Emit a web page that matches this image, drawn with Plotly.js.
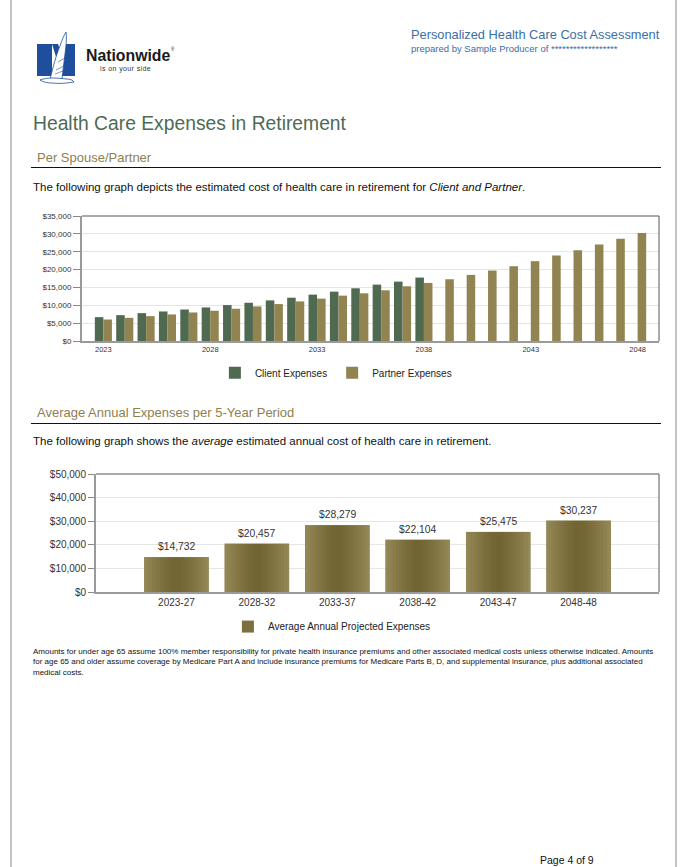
<!DOCTYPE html>
<html>
<head>
<meta charset="utf-8">
<script src="https://cdn.plot.ly/plotly-3.0.1.min.js"></script>
<style>
  body { margin: 0; background: #fff; font-family: "Liberation Sans", Arial, sans-serif; }
  #page { position: relative; width: 684px; height: 867px; overflow: hidden; background: #fff; }
  .abs { position: absolute; white-space: nowrap; line-height: 1; }
  .sub { color: #8e8050; font-size: 13px; }
  .body { color: #111; font-size: 11.5px; }
  .rule { position: absolute; left: 31px; width: 630px; height: 1px; background: #111; }
</style>
</head>
<body>
<div id="page">
  <div style="position:absolute;left:10px;top:0;width:2px;height:867px;background:#c4c4c4"></div>
  <div style="position:absolute;left:675px;top:0;width:2px;height:867px;background:#c4c4c4"></div>

  <svg class="abs" style="left:30px;top:28px" width="160" height="62" viewBox="30 28 160 62">
    <path d="M37,44 H52 V76 H37 Z" fill="#1f4f9c"/>
    <path d="M63,44 H75 V76 H63 Z" fill="#1f4f9c"/>
    <path d="M52,44 H58 L67,68 V76 H62 Z" fill="#1f4f9c"/>
    <path d="M50,79 C53,68 56,55 60,46 C62,40 64,35 66,32 C67,38 66,46 65,54 C64,62 63,70 62,79 Z" fill="#fff" stroke="#1f4f9c" stroke-width="0.8"/>
    <path d="M56,70 L64,66 M55,74 L63,71 M58,62 L65,58" stroke="#1f4f9c" stroke-width="0.6" fill="none"/>
    <path d="M40,80 C48,77 58,78 66,79 C70,79 73,80 74,82 C68,83 60,84 52,83 C47,83 43,82 40,80 Z" fill="#fff" stroke="#1f4f9c" stroke-width="0.8"/>
    <text x="86" y="60.5" font-family="Liberation Sans, Arial, sans-serif" font-weight="bold" font-size="15.8" fill="#1a1a1a">Nationwide</text>
    <text x="171" y="51" font-family="Liberation Sans, Arial, sans-serif" font-size="4.5" fill="#1a1a1a">®</text>
    <text x="100" y="70.5" font-family="Liberation Sans, Arial, sans-serif" font-size="7" fill="#333" letter-spacing="0.4">is on your side</text>
  </svg>

  <div class="abs" style="left:411px;top:28.6px;font-size:12.8px;color:#3b6ea6">Personalized Health Care Cost Assessment</div>
  <div class="abs" style="left:411px;top:43.8px;font-size:9.5px;color:#3b6ea6">prepared by Sample Producer of ******************</div>

  <div class="abs" style="left:33px;top:114px;font-size:19.3px;color:#4e6b52">Health Care Expenses in Retirement</div>

  <div class="abs sub" style="left:37px;top:150.5px">Per Spouse/Partner</div>
  <div class="rule" style="top:166.5px"></div>
  <div class="abs body" style="left:33px;top:181.5px">The following graph depicts the estimated cost of health care in retirement for <i>Client and Partner</i>.</div>

  <div id="chart1" style="position:absolute;left:0;top:205px;width:684px;height:215px"></div>

  <div class="abs sub" style="left:37px;top:405.5px">Average Annual Expenses per 5-Year Period</div>
  <div class="rule" style="top:422.5px"></div>
  <div class="abs body" style="left:33px;top:435.5px">The following graph shows the <i>average</i> estimated annual cost of health care in retirement.</div>

  <div id="chart2" style="position:absolute;left:0;top:460px;width:684px;height:210px"></div>

  <div class="abs" style="left:33px;top:646.5px;font-size:8px;line-height:10.5px;color:#111">Amounts for under age 65 assume 100% member responsibility for private health insurance premiums and other associated medical costs unless otherwise indicated. Amounts<br>for age 65 and older assume coverage by Medicare Part A and include insurance premiums for Medicare Parts B, D, and supplemental insurance, plus additional associated<br>medical costs.</div>

  <div class="abs" style="left:540px;top:855px;font-size:10.5px;color:#111">Page 4 of 9</div>
</div>

<script>
// ---- Chart 1 data: yearly expenses per spouse/partner ----
const years = [2023, 2024, 2025, 2026, 2027, 2028, 2029, 2030, 2031, 2032, 2033, 2034, 2035,
               2036, 2037, 2038, 2039, 2040, 2041, 2042, 2043, 2044, 2045, 2046, 2047, 2048];
const clientExpenses = [6680, 7240, 7800, 8270, 8820, 9400, 10060, 10710, 11370, 12120, 12980, 13820,
                        14760, 15790, 16630, 17760, null, null, null, null, null, null, null, null, null, null];
const partnerExpenses = [6020, 6490, 6960, 7430, 7990, 8470, 9030, 9680, 10340, 11090, 11860, 12700,
                         13350, 14200, 15320, 16260, 17290, 18510, 19730, 20940, 22350, 23940, 25440, 27030, 28620, 30237];
const seriesNames = ["Client Expenses", "Partner Expenses"];

// ---- Chart 2 data: average annual expenses per 5-year period ----
const periods = ["2023-27", "2028-32", "2033-37", "2038-42", "2043-47", "2048-48"];
const averageExpenses = [14732, 20457, 28279, 22104, 25475, 30237];
const avgSeriesName = "Average Annual Projected Expenses";

const FONT = "Liberation Sans, Arial, sans-serif";
const config = { displayModeBar: false, staticPlot: true };

// Chart 1
const c1 = [
  { type: "bar", name: seriesNames[0], x: years, y: clientExpenses, marker: { color: "#4f6a51" } },
  { type: "bar", name: seriesNames[1], x: years, y: partnerExpenses, marker: { color: "#918451" } }
];
const l1 = {
  width: 684, height: 215,
  margin: { l: 82, r: 25, t: 11, b: 79 },
  paper_bgcolor: "rgba(0,0,0,0)", plot_bgcolor: "#fff",
  barmode: "group", bargap: 0.2, bargroupgap: 0,
  font: { family: FONT, color: "#333" },
  showlegend: true,
  xaxis: { range: [2022, 2049], tick0: 2023, dtick: 5, tickfont: { size: 7.5, color: "#333" },
           showgrid: false, showline: true, linecolor: "#9a9a9a", linewidth: 2, ticks: "", zeroline: false },
  yaxis: { range: [0, 35000], dtick: 5000, tickprefix: "$", tickformat: ",d", ticks: "outside", ticklen: 7,
           tickcolor: "#888", tickfont: { size: 8, color: "#333" }, gridcolor: "#e6e6e6",
           showline: true, linecolor: "#9a9a9a", linewidth: 2, zeroline: false },
  shapes: [
    { type: "line", xref: "paper", yref: "paper", x0: 0, x1: 1, y0: 1, y1: 1, line: { color: "#555", width: 1 } },
    { type: "line", xref: "paper", yref: "paper", x0: 1, x1: 1, y0: 0, y1: 1, line: { color: "#555", width: 1 } }
  ],
  legend: { orientation: "h", x: 0.44, xanchor: "center", y: -0.253, yanchor: "middle",
            font: { size: 10, color: "#222" } }
};
Plotly.newPlot("chart1", c1, l1, config);

// Chart 2: bars with a horizontal gradient built from thin overlaid bar slices
function mix(a, b, t) {
  const pa = [1, 3, 5].map(i => parseInt(a.substr(i, 2), 16));
  const pb = [1, 3, 5].map(i => parseInt(b.substr(i, 2), 16));
  return "rgb(" + pa.map((v, i) => Math.round(v + (pb[i] - v) * t)).join(",") + ")";
}
const BARW = 0.8, NS = 24;
const c2 = [{
  type: "bar", name: avgSeriesName, x: periods, y: averageExpenses,
  width: BARW, offset: -BARW / 2, marker: { color: "#7d7040" }
}];
for (let i = 0; i < NS; i++) {
  const t = (i + 0.5) / NS;
  const d = Math.abs(t - 0.5) * 2;
  c2.push({
    type: "bar", x: periods, y: averageExpenses, showlegend: false,
    width: BARW / NS + 0.002, offset: -BARW / 2 + i * BARW / NS,
    marker: { color: mix("#716332", "#968a58", Math.pow(d, 1.3)) }
  });
}
const valueLabels = periods.map((p, i) => ({
  x: p, y: averageExpenses[i], xref: "x", yref: "y",
  text: "$" + averageExpenses[i].toLocaleString("en-US"),
  showarrow: false, yanchor: "bottom", yshift: 3,
  font: { size: 10.3, color: "#333", family: FONT }
}));
const l2 = {
  width: 684, height: 210,
  margin: { l: 96, r: 25, t: 13.7, b: 77.7 },
  paper_bgcolor: "rgba(0,0,0,0)", plot_bgcolor: "#fff",
  barmode: "overlay",
  font: { family: FONT, color: "#333" },
  showlegend: true,
  xaxis: { type: "category", range: [-1, 6], tickfont: { size: 10, color: "#333" },
           showgrid: false, showline: true, linecolor: "#9a9a9a", linewidth: 2, ticks: "", zeroline: false },
  yaxis: { range: [0, 50000], dtick: 10000, tickprefix: "$", tickformat: ",d", ticks: "outside", ticklen: 6,
           tickcolor: "#888", tickfont: { size: 10, color: "#333" }, gridcolor: "#e6e6e6",
           showline: true, linecolor: "#9a9a9a", linewidth: 2, zeroline: false },
  shapes: [
    { type: "line", xref: "paper", yref: "paper", x0: 0, x1: 1, y0: 1, y1: 1, line: { color: "#555", width: 1 } },
    { type: "line", xref: "paper", yref: "paper", x0: 1, x1: 1, y0: 0, y1: 1, line: { color: "#555", width: 1 } }
  ],
  annotations: valueLabels,
  legend: { orientation: "h", x: 0.419, xanchor: "center", y: -0.293, yanchor: "middle",
            font: { size: 10, color: "#222" } }
};
Plotly.newPlot("chart2", c2, l2, config);
</script>
</body>
</html>
